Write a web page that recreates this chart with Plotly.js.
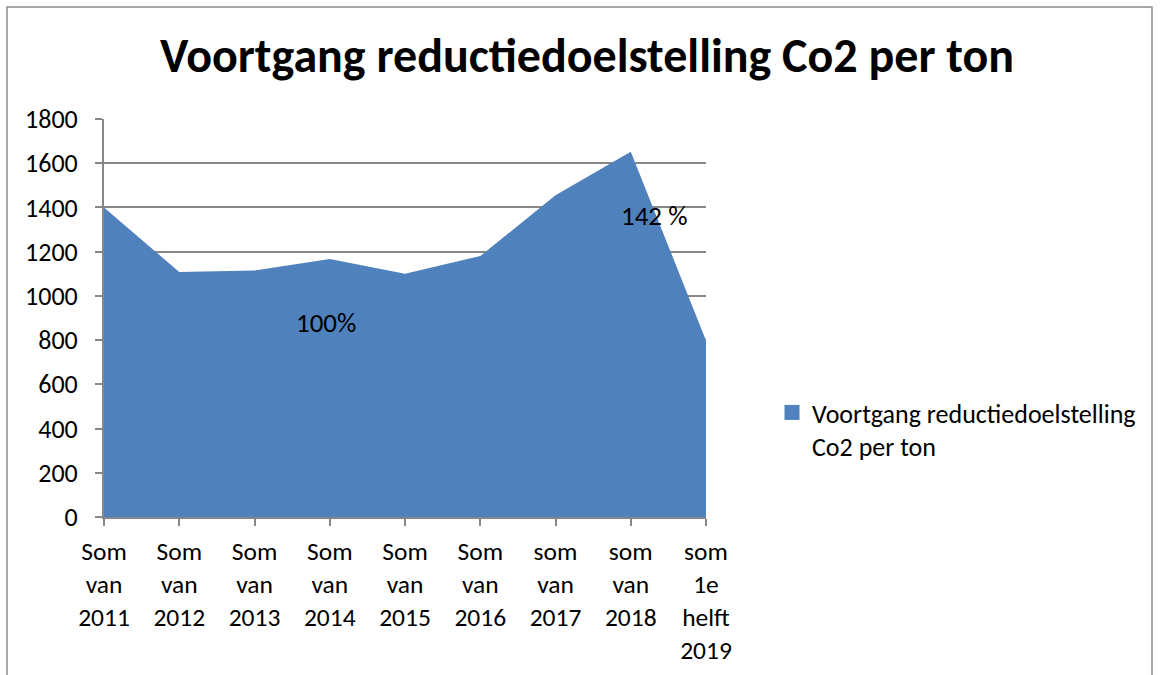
<!DOCTYPE html>
<html>
<head>
<meta charset="utf-8">
<script src="https://cdn.plot.ly/plotly-3.0.1.min.js"></script>
<style>html,body{margin:0;padding:0;background:#fff;}#chart{width:1160px;height:675px;}</style>
</head>
<body>
<div id="chart"></div>
<script>
const categories = ["Som<br>van<br>2011","Som<br>van<br>2012","Som<br>van<br>2013","Som<br>van<br>2014","Som<br>van<br>2015","Som<br>van<br>2016","som<br>van<br>2017","som<br>van<br>2018","som<br>1e<br>helft<br>2019"];
const values = [1400, 1108, 1115, 1167, 1100, 1180, 1455, 1652, 798];
const seriesName = "Voortgang reductiedoelstelling<br>Co2 per ton";
const chartTitle = "Voortgang reductiedoelstelling Co2 per ton";
const labelTexts = ["100%", "142 %"];
const labelX = [2.95, 7.31];
const labelY = [880, 1362];

const FONT = "Carlito, 'Noto Sans', sans-serif";
const fillColor = "#4F81BD";
const gridColor = "#868686";

const traces = [
  {
    x: categories, y: values, type: "scatter", mode: "none",
    fill: "tozeroy", fillcolor: fillColor, line: {width: 0},
    showlegend: false, hoverinfo: "x+y"
  },
  {
    x: [categories[0]], y: [null], type: "scatter", mode: "markers",
    marker: {symbol: "square", size: 15, color: fillColor},
    name: seriesName, showlegend: true
  }
];

const plotL = 104, plotR = 706, plotT = 119, plotB = 517;
const pw = plotR - plotL, ph = plotB - plotT;

const layout = {
  width: 1160, height: 675,
  margin: {l: plotL, r: 1160 - plotR, t: plotT, b: 675 - plotB, pad: 0},
  paper_bgcolor: "#ffffff", plot_bgcolor: "#ffffff",
  font: {family: FONT, size: 25.5, color: "#000"},
  title: {
    text: "<b>" + chartTitle + "</b>",
    font: {family: FONT, size: 48, color: "#000"},
    x: 587 / 1160, xanchor: "center", y: 1 - 55 / 675, yanchor: "middle"
  },
  xaxis: {
    type: "category", range: [0, categories.length - 1],
    showgrid: false, showline: true, linecolor: gridColor, linewidth: 2,
    ticks: "outside", ticklen: 7, tickcolor: gridColor, tickwidth: 2,
    tickfont: {family: FONT, size: 25.5, color: "#000"},
    ticklabelstandoff: 3, tickangle: 0, fixedrange: true
  },
  yaxis: {
    range: [0, 1800], dtick: 200, tick0: 0,
    showgrid: true, gridcolor: gridColor, gridwidth: 2,
    showline: true, linecolor: gridColor, linewidth: 2,
    ticks: "outside", ticklen: 7, tickcolor: gridColor, tickwidth: 2,
    tickfont: {family: FONT, size: 26, color: "#000"},
    ticklabelstandoff: 12, zeroline: false, fixedrange: true
  },
  legend: {
    x: (772 - plotL) / pw, xanchor: "left",
    y: (plotB - 389) / ph, yanchor: "top",
    font: {family: FONT, size: 26, color: "#000"},
    valign: "top", itemwidth: 30, bgcolor: "rgba(0,0,0,0)"
  },
  annotations: labelTexts.map((t, i) => ({
    x: labelX[i], y: labelY[i], xref: "x", yref: "y", text: t,
    showarrow: false, font: {family: FONT, size: 27, color: "#000"},
    xanchor: "center", yanchor: "middle"
  })),
  shapes: [{
    type: "rect", xref: "paper", yref: "paper",
    x0: (7 - plotL) / pw, x1: (1152 - plotL) / pw,
    y0: (plotB - 720) / ph, y1: (plotB - 7) / ph,
    line: {color: "#8c8c8c", width: 1.5}, fillcolor: "rgba(0,0,0,0)", layer: "below"
  }]
};

Plotly.newPlot("chart", traces, layout, {displayModeBar: false, staticPlot: true});
</script>
</body>
</html>
